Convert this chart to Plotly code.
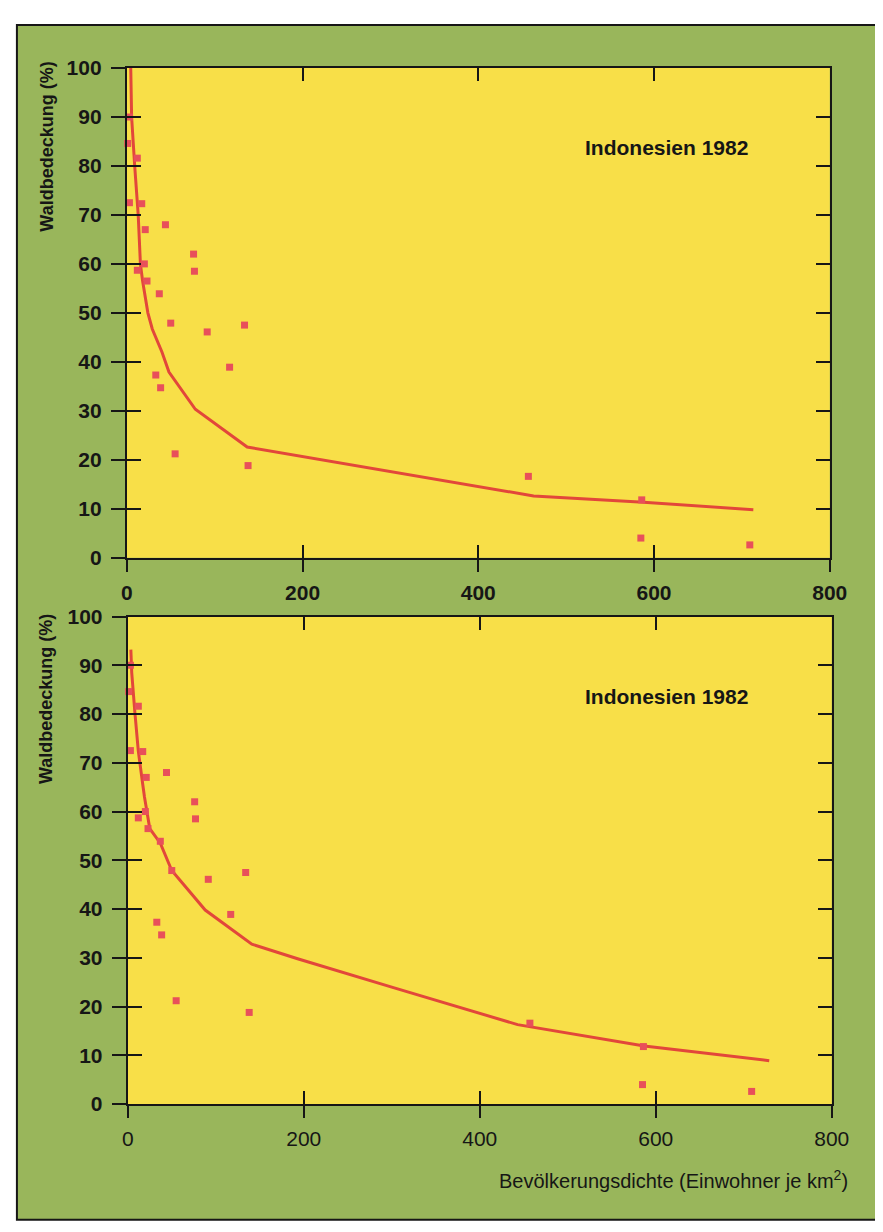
import plotly.graph_objects as go

# ---- data ----
density = [3, 1, 12, 3, 17, 21, 44, 76, 77, 20, 12, 23, 37, 50, 91.5, 134, 117, 33, 38.5, 55, 138, 457, 586, 585, 709]
forest = [90, 84.6, 81.6, 72.5, 72.3, 67, 68, 62, 58.5, 60, 58.7, 56.5, 53.9, 47.9, 46.1, 47.5, 38.9, 37.3, 34.7, 21.2, 18.8, 16.6, 11.8, 4.0, 2.6]

curve_top_x = [4.5, 5.5, 9, 13, 15.5, 18, 24, 29, 40, 48, 78, 137, 463, 588, 713]
curve_top_y = [100, 90, 80, 70, 60, 56.5, 50, 46.7, 42, 37.9, 30.3, 22.6, 12.6, 11.3, 9.8]

curve_bot_x = [3.5, 4.5, 8, 12, 17, 19, 25, 37, 50, 88, 141, 193, 300, 443, 587, 729]
curve_bot_y = [93.2, 88.5, 80.5, 72.4, 65.6, 63, 56.5, 53.5, 47.9, 39.8, 32.8, 29.8, 24, 16.3, 11.9, 8.9]

x_ticks = [0, 200, 400, 600, 800]
y_ticks = [0, 10, 20, 30, 40, 50, 60, 70, 80, 90, 100]
panel_label = "Indonesien 1982"
y_title = "Waldbedeckung (%)"
x_title = "Bevölkerungsdichte (Einwohner je km<sup>2</sup>)"

# ---- styles ----
PAGE_W, PAGE_H = 883, 1232
OFF = 8  # default body margin of the html page
W, H = PAGE_W - 2 * OFF, PAGE_H - 2 * OFF
GREEN = "#99b65b"
YELLOW = "#f8df48"
RED_PT = "#e8505a"
RED_LN = "#e2473a"
INK = "#161616"
FONT = "Liberation Sans, Arial, sans-serif"

def px_x(p):
    return (p - OFF) / W

def px_y(p):
    return 1 - (p - OFF) / H

fig = go.Figure()

panels = [
    dict(xa="x", ya="y", xo="x3", yo="y3", cx=curve_top_x, cy=curve_top_y,
         xdom=[px_x(124), px_x(847)], ydom=[px_y(556), px_y(57)], xbold=True),
    dict(xa="x2", ya="y2", xo="x4", yo="y4", cx=curve_bot_x, cy=curve_bot_y,
         xdom=[px_x(125), px_x(849)], ydom=[px_y(1113), px_y(616)], xbold=False),
]

for p in panels:
    fig.add_trace(go.Scatter(x=p["cx"], y=p["cy"], mode="lines",
                             line=dict(color=RED_LN, width=3),
                             xaxis=p["xa"], yaxis=p["ya"], showlegend=False, hoverinfo="skip"))
    fig.add_trace(go.Scatter(x=density, y=forest, mode="markers",
                             marker=dict(symbol="square", size=7, color=RED_PT),
                             xaxis=p["xa"], yaxis=p["ya"], showlegend=False, cliponaxis=False))
    # empty trace so the overlay axes are drawn
    fig.add_trace(go.Scatter(x=[None], y=[None], xaxis=p["xo"], yaxis=p["yo"],
                             showlegend=False, hoverinfo="skip"))

def base_x(dom, anchor):
    return dict(domain=dom, anchor=anchor, range=[0, 800], tickvals=x_ticks,
                showgrid=False, zeroline=False, showline=True, linecolor=INK, linewidth=2,
                ticks="inside", ticklen=13, tickwidth=2, tickcolor=INK, mirror="ticks",
                showticklabels=False, fixedrange=True)

def base_y(dom, anchor):
    return dict(domain=dom, anchor=anchor, range=[0, 100], tickvals=y_ticks,
                showgrid=False, zeroline=False, showline=True, linecolor=INK, linewidth=2,
                ticks="inside", ticklen=14, tickwidth=2, tickcolor=INK, mirror="ticks",
                showticklabels=False, fixedrange=True)

def over_x(dom, overlay, anchor, bold):
    return dict(domain=dom, overlaying=overlay, anchor=anchor, side="bottom", range=[0, 800],
                tickvals=x_ticks, ticktext=[(f"<b>{t}</b>" if bold else str(t)) for t in x_ticks],
                showgrid=False, zeroline=False, showline=False,
                ticks="outside", ticklen=13, tickwidth=2, tickcolor=INK,
                tickfont=dict(family=FONT, size=21, color=INK), ticklabelstandoff=3,
                fixedrange=True)

def over_y(dom, overlay, anchor):
    return dict(domain=dom, overlaying=overlay, anchor=anchor, side="left", range=[0, 100],
                tickvals=y_ticks, ticktext=[f"<b>{t}</b>" for t in y_ticks],
                showgrid=False, zeroline=False, showline=False,
                ticks="outside", ticklen=15, tickwidth=2, tickcolor=INK,
                tickfont=dict(family=FONT, size=21, color=INK), ticklabelstandoff=5,
                fixedrange=True)

p1, p2 = panels
fig.update_layout(
    xaxis=base_x(p1["xdom"], "y"), yaxis=base_y(p1["ydom"], "x"),
    xaxis2=base_x(p2["xdom"], "y2"), yaxis2=base_y(p2["ydom"], "x2"),
    xaxis3=over_x(p1["xdom"], "x", "y3", True), yaxis3=over_y(p1["ydom"], "y", "x3"),
    xaxis4=over_x(p2["xdom"], "x2", "y4", False), yaxis4=over_y(p2["ydom"], "y2", "x4"),
)

# outer green frame, then the yellow plot areas on top of it
fig.add_shape(type="rect", xref="paper", yref="paper",
              x0=px_x(11), x1=1.05, y0=px_y(1231), y1=px_y(13),
              fillcolor=GREEN, line=dict(color=INK, width=2), layer="below")
for p in panels:
    fig.add_shape(type="rect", xref=f"{p['xa']} domain", yref=f"{p['ya']} domain",
                  x0=0, x1=1, y0=0, y1=1, fillcolor=YELLOW, line=dict(width=0), layer="below")

annotations = []
for p, ycen, ytitle in [(p1, 138, 137), (p2, 698, 700)]:
    annotations.append(dict(text=f"<b>{panel_label}</b>", xref="paper", yref="paper",
                            x=px_x(593), y=px_y(ycen), xanchor="left", yanchor="middle",
                            showarrow=False, font=dict(family=FONT, size=21, color=INK)))
    annotations.append(dict(text=f"<b>{y_title}</b>", xref="paper", yref="paper",
                            x=px_x(41), y=px_y(ytitle), xanchor="center", yanchor="middle",
                            textangle=-90, showarrow=False,
                            font=dict(family=FONT, size=18, color=INK)))
annotations.append(dict(text=x_title, xref="paper", yref="paper",
                        x=px_x(868), y=px_y(1190), xanchor="right", yanchor="middle",
                        showarrow=False, font=dict(family=FONT, size=20, color=INK)))

fig.update_layout(
    width=W, height=H, margin=dict(l=0, r=0, t=0, b=0),
    paper_bgcolor="white", plot_bgcolor=YELLOW,
    annotations=annotations, showlegend=False,
)

fig.write_html("out.html")
